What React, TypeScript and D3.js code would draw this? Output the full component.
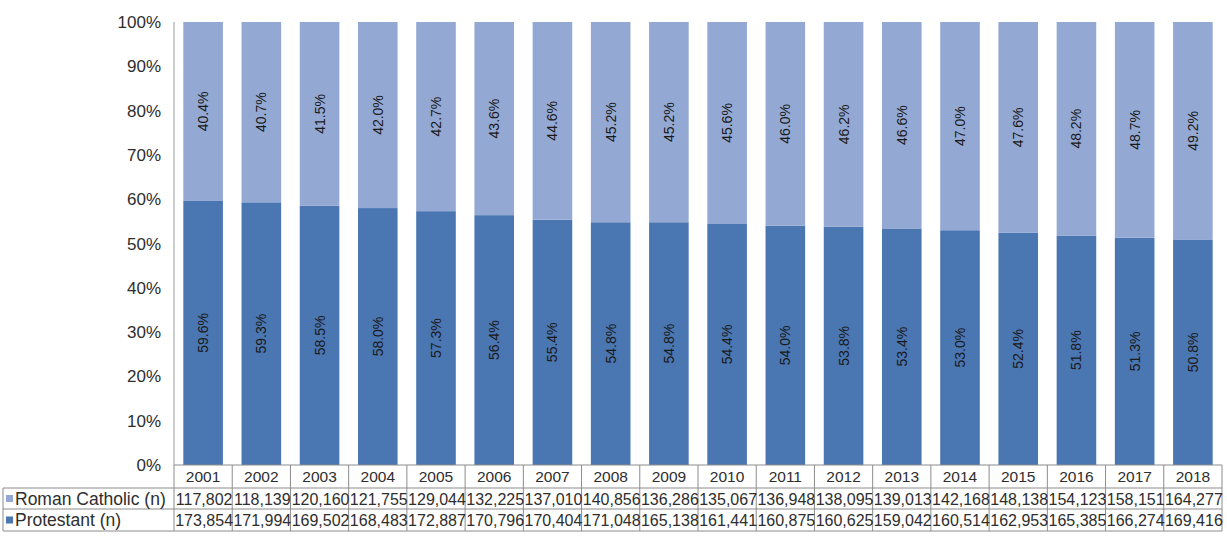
import React from "react";
import * as d3 from "d3";

const years = ["2001","2002","2003","2004","2005","2006","2007","2008","2009","2010","2011","2012","2013","2014","2015","2016","2017","2018"];
const catholicN = ["117,802","118,139","120,160","121,755","129,044","132,225","137,010","140,856","136,286","135,067","136,948","138,095","139,013","142,168","148,138","154,123","158,151","164,277"];
const protestantN = ["173,854","171,994","169,502","168,483","172,887","170,796","170,404","171,048","165,138","161,441","160,875","160,625","159,042","160,514","162,953","165,385","166,274","169,416"];
const protestantPct = [59.6,59.3,58.5,58.0,57.3,56.4,55.4,54.8,54.8,54.4,54.0,53.8,53.4,53.0,52.4,51.8,51.3,50.8];
const catholicPct = [40.4,40.7,41.5,42.0,42.7,43.6,44.6,45.2,45.2,45.6,46.0,46.2,46.6,47.0,47.6,48.2,48.7,49.2];
const yTicks = [0,10,20,30,40,50,60,70,80,90,100];

const W = 1227, H = 552;
const left = 174, right = 1222, top = 22, bottom = 465;
const rowH = [465, 488, 509, 531];
const labelLeft = 3;

const darkColor = "#4a76b2";
const lightColor = "#93a9d4";
const textColor = "#2e2e2e";
const font = "'Liberation Sans', Arial, sans-serif";

export default function App() {
  const x = d3.scaleBand<string>().domain(years).range([left, right]).paddingInner(0).paddingOuter(0);
  const y = d3.scaleLinear().domain([0, 100]).range([bottom, top]);
  const bw = x.bandwidth();
  const barW = bw * 0.68;
  const totals = years.map((_, i) => protestantPct[i] + catholicPct[i]);

  return (
    <svg width={W} height={H} style={{ position: "absolute", left: 0, top: 0, background: "#fff" }} fontFamily={font}>
      {/* bars */}
      {years.map((yr, i) => {
        const p = (protestantPct[i] / totals[i]) * 100;
        const bx = (x(yr) as number) + (bw - barW) / 2;
        const cx = (x(yr) as number) + bw / 2;
        return (
          <g key={yr}>
            <rect x={bx} y={y(p)} width={barW} height={y(0) - y(p)} fill={darkColor} />
            <rect x={bx} y={y(100)} width={barW} height={y(p) - y(100)} fill={lightColor} />
            <text transform={`translate(${cx + 5},${(y(0) + y(p)) / 2}) rotate(-90)`} textAnchor="middle" fontSize={14} fill="#1a1a1a">{protestantPct[i].toFixed(1)}%</text>
            <text transform={`translate(${cx + 5},${(y(p) + y(100)) / 2}) rotate(-90)`} textAnchor="middle" fontSize={14} fill="#1a1a1a">{catholicPct[i].toFixed(1)}%</text>
          </g>
        );
      })}
      {/* y axis */}
      <line x1={left} x2={left} y1={top} y2={bottom} stroke="#999" strokeWidth={1} />
      {yTicks.map((t) => (
        <text key={t} x={161} y={y(t) + 6} textAnchor="end" fontSize={17} fill={textColor}>{t}%</text>
      ))}
      {/* table */}
      <g stroke="#8c8c8c" strokeWidth={1} fill="none">
        <line x1={left} x2={right} y1={rowH[0]} y2={rowH[0]} />
        <line x1={labelLeft} x2={right} y1={rowH[1]} y2={rowH[1]} />
        <line x1={labelLeft} x2={right} y1={rowH[2]} y2={rowH[2]} />
        <line x1={labelLeft} x2={right} y1={rowH[3]} y2={rowH[3]} />
        <line x1={labelLeft} x2={labelLeft} y1={rowH[1]} y2={rowH[3]} />
        {years.map((yr) => (
          <line key={yr} x1={x(yr) as number} x2={x(yr) as number} y1={rowH[0]} y2={rowH[3]} />
        ))}
        <line x1={right} x2={right} y1={rowH[0]} y2={rowH[3]} />
      </g>
      {years.map((yr, i) => {
        const cx = (x(yr) as number) + bw / 2;
        return (
          <g key={yr} fill={textColor}>
            <text x={cx} y={(rowH[0] + rowH[1]) / 2 + 5.5} textAnchor="middle" fontSize={15.5}>{yr}</text>
            <text x={cx + 1} y={(rowH[1] + rowH[2]) / 2 + 6} textAnchor="middle" fontSize={16}>{catholicN[i]}</text>
            <text x={cx + 1} y={(rowH[2] + rowH[3]) / 2 + 6} textAnchor="middle" fontSize={16}>{protestantN[i]}</text>
          </g>
        );
      })}
      <rect x={6} y={(rowH[1] + rowH[2]) / 2 - 3.5} width={7} height={7} fill={lightColor} />
      <text x={15} y={(rowH[1] + rowH[2]) / 2 + 6} fontSize={17.5} fill={textColor}>Roman Catholic (n)</text>
      <rect x={6} y={(rowH[2] + rowH[3]) / 2 - 3.5} width={7} height={7} fill={darkColor} />
      <text x={15} y={(rowH[2] + rowH[3]) / 2 + 6} fontSize={17.5} fill={textColor}>Protestant (n)</text>
    </svg>
  );
}
